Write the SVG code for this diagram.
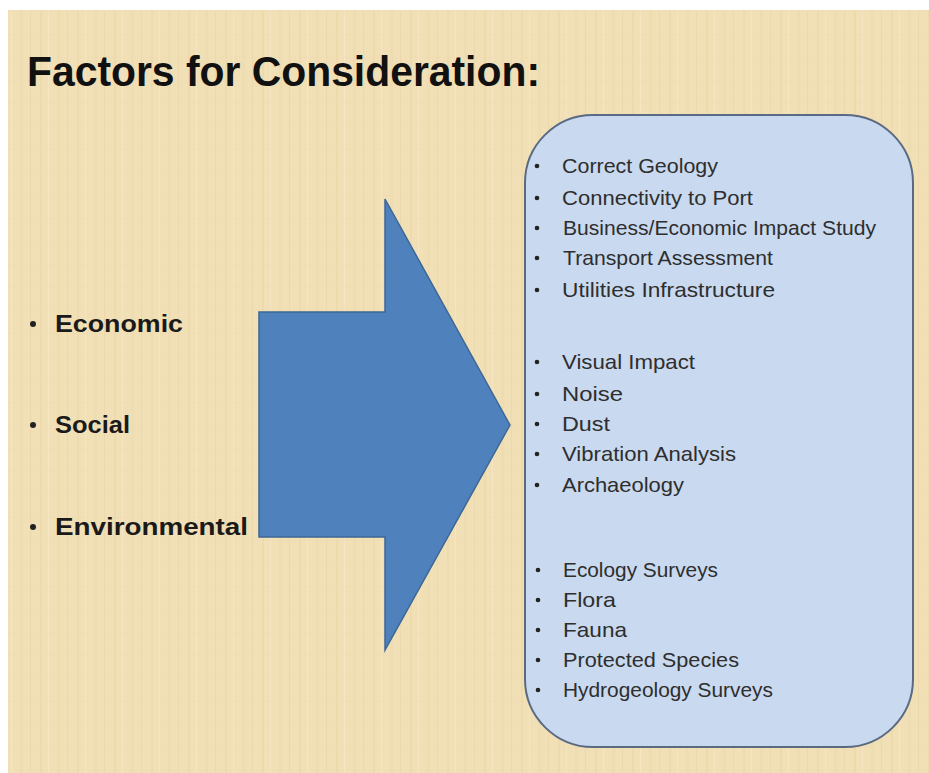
<svg xmlns="http://www.w3.org/2000/svg" width="929" height="773" viewBox="0 0 929 773">
<defs>
<pattern id="tex" x="0" y="0" width="37" height="23" patternUnits="userSpaceOnUse">
<rect width="37" height="23" fill="#f1dfb6"/>
<rect x="3" width="2" height="23" fill="#e9d4a6" opacity="0.55"/>
<rect x="11" width="1" height="23" fill="#f7e9c9" opacity="0.7"/>
<rect x="20" width="3" height="23" fill="#ecd9ad" opacity="0.5"/>
<rect x="30" width="1" height="23" fill="#e6d0a0" opacity="0.45"/>
<rect y="11" width="37" height="1" fill="#ebd8ab" opacity="0.25"/>
</pattern>
</defs>
<style>
.title{font-family:"Liberation Sans",Arial,sans-serif;font-weight:bold;font-size:42px;fill:#111;}
.left{font-family:"Liberation Sans",Arial,sans-serif;font-weight:bold;font-size:24px;fill:#1a1a1a;}
.item{font-family:"Liberation Sans",Arial,sans-serif;font-size:21px;fill:#2e2e2e;}
.bul{fill:#222;}
</style>
<rect width="929" height="773" fill="#ffffff"/>
<rect x="8" y="10" width="921" height="763" fill="url(#tex)"/>
<g id="title">
<text class="title" x="27" y="86" textLength="513" lengthAdjust="spacingAndGlyphs">Factors for Consideration:</text>
</g>
<g id="factors">
<circle class="bul" cx="33" cy="324" r="3"/>
<text class="left" x="55" y="332" textLength="128" lengthAdjust="spacingAndGlyphs">Economic</text>
<circle class="bul" cx="33" cy="425" r="3"/>
<text class="left" x="55" y="433" textLength="75" lengthAdjust="spacingAndGlyphs">Social</text>
<circle class="bul" cx="33" cy="527" r="3"/>
<text class="left" x="55" y="535" textLength="193" lengthAdjust="spacingAndGlyphs">Environmental</text>
</g>
<g id="connectors">
<path id="arrow" d="M259,312 L385,312 L385,199 L510,425 L385,650 L385,537 L259,537 Z" fill="#4f81bd" stroke="#3d6797" stroke-width="1.5"/>
</g>
<g id="considerations">
<rect x="525" y="115" width="388" height="632" rx="68" ry="68" fill="#c9d9ef" stroke="#5a6a82" stroke-width="2"/>
<g class="item">
<text x="562" y="173" textLength="156" lengthAdjust="spacingAndGlyphs">Correct Geology</text>
<text x="562" y="205" textLength="191" lengthAdjust="spacingAndGlyphs">Connectivity to Port</text>
<text x="563" y="235" textLength="313" lengthAdjust="spacingAndGlyphs">Business/Economic Impact Study</text>
<text x="563" y="265" textLength="210" lengthAdjust="spacingAndGlyphs">Transport Assessment</text>
<text x="562" y="297" textLength="213" lengthAdjust="spacingAndGlyphs">Utilities Infrastructure</text>
<text x="562" y="369" textLength="133" lengthAdjust="spacingAndGlyphs">Visual Impact</text>
<text x="562" y="401" textLength="61" lengthAdjust="spacingAndGlyphs">Noise</text>
<text x="562" y="431" textLength="48" lengthAdjust="spacingAndGlyphs">Dust</text>
<text x="562" y="461" textLength="174" lengthAdjust="spacingAndGlyphs">Vibration Analysis</text>
<text x="562" y="492" textLength="122" lengthAdjust="spacingAndGlyphs">Archaeology</text>
<text x="563" y="577" textLength="155" lengthAdjust="spacingAndGlyphs">Ecology Surveys</text>
<text x="563" y="607" textLength="53" lengthAdjust="spacingAndGlyphs">Flora</text>
<text x="563" y="637" textLength="64" lengthAdjust="spacingAndGlyphs">Fauna</text>
<text x="563" y="667" textLength="176" lengthAdjust="spacingAndGlyphs">Protected Species</text>
<text x="563" y="697" textLength="210" lengthAdjust="spacingAndGlyphs">Hydrogeology Surveys</text>
</g>
<g class="bul">
<circle cx="537" cy="166" r="2.3"/>
<circle cx="537" cy="198" r="2.3"/>
<circle cx="537" cy="228" r="2.3"/>
<circle cx="537" cy="258" r="2.3"/>
<circle cx="537" cy="290" r="2.3"/>
<circle cx="537" cy="362" r="2.3"/>
<circle cx="537" cy="394" r="2.3"/>
<circle cx="537" cy="424" r="2.3"/>
<circle cx="537" cy="454" r="2.3"/>
<circle cx="537" cy="485" r="2.3"/>
<circle cx="538" cy="570" r="2.3"/>
<circle cx="538" cy="600" r="2.3"/>
<circle cx="538" cy="630" r="2.3"/>
<circle cx="538" cy="660" r="2.3"/>
<circle cx="538" cy="690" r="2.3"/>
</g>
</g>
</svg>
